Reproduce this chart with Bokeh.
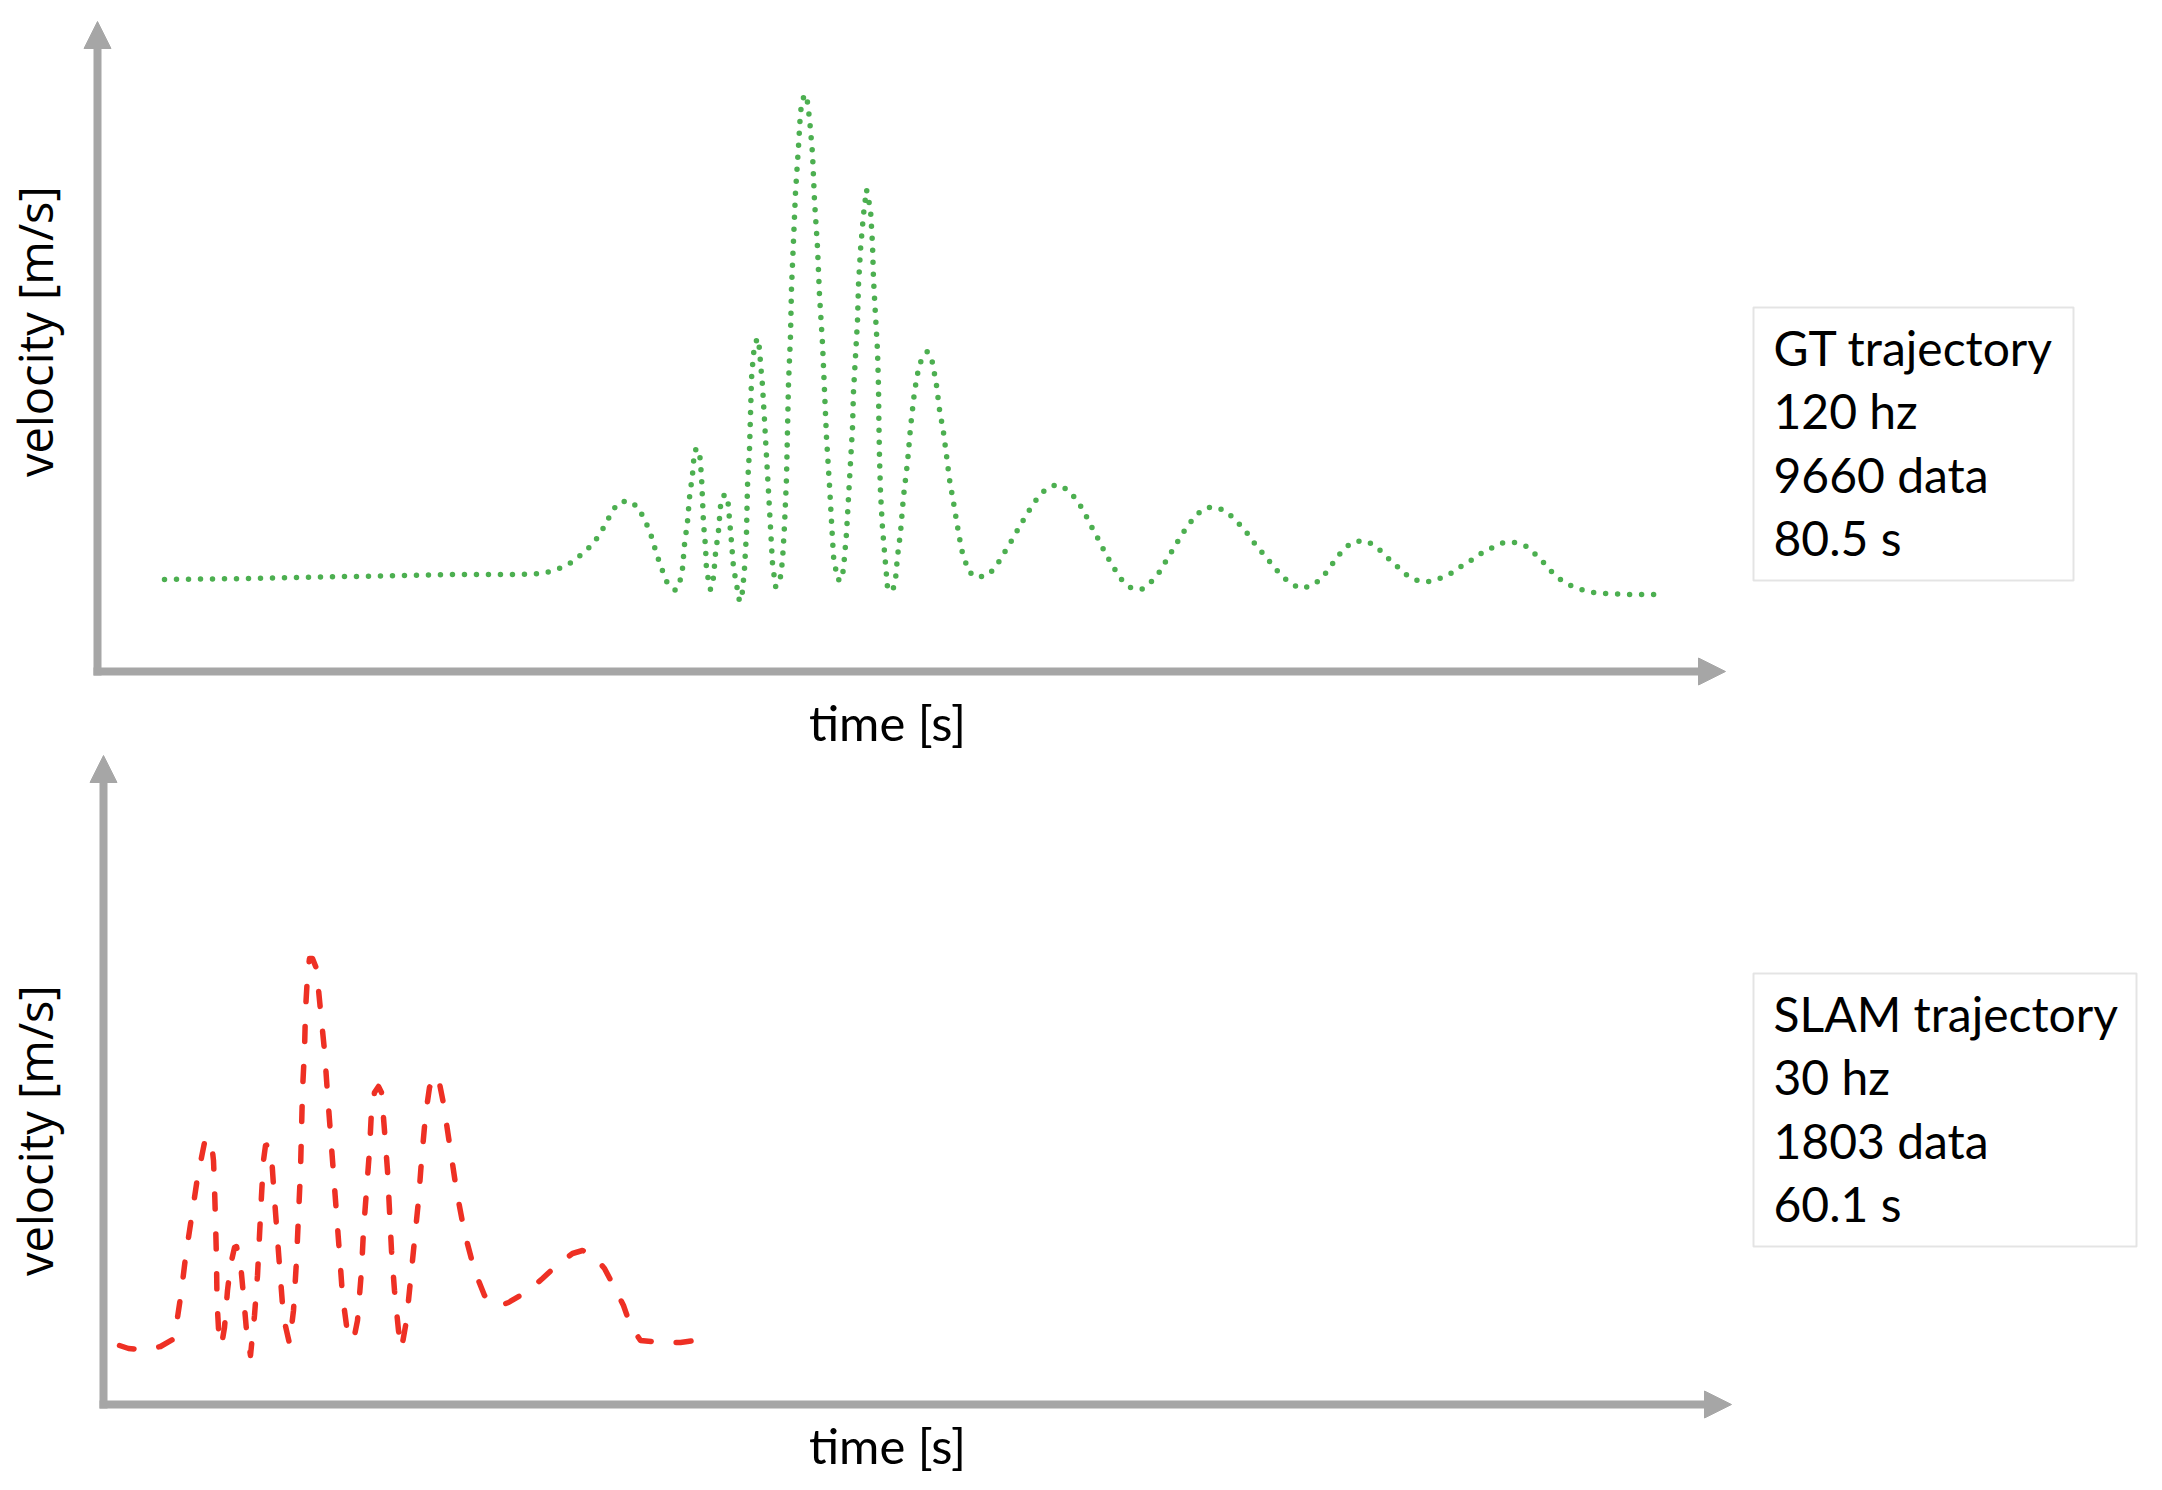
from bokeh.plotting import figure
from bokeh.layouts import column
from bokeh.models import Arrow, NormalHead, Label, BoxAnnotation, Range1d
from bokeh.embed import file_html
from bokeh.resources import INLINE
import math

# ---------------- data ----------------
# GT trajectory (time in s, velocity in m/s, schematic units)
gt_time = [0.0, 4.3, 9.3, 14.3, 17.8, 18.9, 19.45, 20.0, 20.5, 20.95, 21.4, 21.75, 22.05, 22.3, 22.65,
           23.15, 23.65, 23.95, 24.2, 24.4, 24.55, 24.75, 24.95, 25.15, 25.55, 25.8, 25.9, 26.0, 26.15,
           26.25, 26.4, 26.5, 26.65, 26.75, 26.85, 26.9, 26.95, 27.05, 27.1, 27.3, 27.45, 27.55, 27.7,
           27.8, 27.95, 28.15, 28.25, 28.35, 28.45, 28.55, 28.75, 28.9, 29.0, 29.1, 29.15, 29.25, 29.3,
           29.35, 29.45, 29.6, 29.7, 29.8, 29.9, 30.0, 30.1, 30.2, 30.3, 30.4, 30.55, 30.75, 30.9, 31.0,
           31.1, 31.15, 31.2, 31.3, 31.35, 31.45, 31.55, 31.7, 31.8, 31.95, 32.1, 32.25, 32.4, 32.5,
           32.65, 32.75, 32.9, 33.0, 33.1, 33.25, 33.35, 33.45, 33.65, 33.85, 33.95, 34.1, 34.2, 34.3,
           34.4, 34.45, 34.55, 34.65, 34.7, 34.8, 34.95, 35.1, 35.3, 35.4, 35.45, 35.55, 35.65, 35.7,
           35.72, 35.75, 35.8, 35.9, 36.05, 36.15, 36.4, 36.55, 36.65, 36.8, 36.95, 37.15, 37.3, 37.5,
           37.7, 37.9, 38.15, 38.4, 38.6, 38.75, 38.95, 39.1, 39.25, 39.45, 39.65, 39.85, 40.2, 40.6,
           41.15, 41.55, 41.85, 42.15, 42.45, 42.75, 43.05, 43.35, 43.7, 44.1, 44.6, 45.15, 45.55, 45.85,
           46.15, 46.4, 46.7, 46.95, 47.25, 47.55, 47.85, 48.3, 48.85, 49.3, 49.7, 50.0, 50.3, 50.6,
           50.9, 51.25, 51.6, 52.1, 52.65, 53.15, 53.6, 54.0, 54.35, 54.7, 55.1, 55.45, 55.85, 56.3,
           56.8, 57.4, 57.85, 58.2, 58.55, 58.9, 59.35, 59.9, 60.45, 60.9, 61.3, 61.75, 62.2, 62.75,
           63.3, 63.9, 64.4, 64.9, 65.4, 65.9, 66.4, 66.95, 67.5, 68.1, 68.55, 68.95, 69.35, 69.8,
           70.3, 70.85, 71.4, 72.0, 73.15, 74.9]
gt_velocity = [0.92, 0.93, 0.95, 0.97, 0.97, 0.98, 1.01, 1.05, 1.11, 1.19, 1.27, 1.37, 1.47, 1.57, 1.68,
               1.71, 1.65, 1.54, 1.43, 1.32, 1.21, 1.09, 0.98, 0.88, 0.81, 0.92, 1.03, 1.27, 1.50,
               1.74, 1.97, 2.21, 2.23, 2.20, 1.95, 1.72, 1.48, 1.25, 1.01, 0.82, 0.94, 1.18, 1.41,
               1.65, 1.76, 1.76, 1.52, 1.29, 1.04, 0.93, 0.70, 0.80, 1.03, 1.39, 1.86, 2.22, 2.57,
               2.93, 3.18, 3.31, 3.33, 3.09, 2.86, 2.51, 2.15, 1.80, 1.44, 1.08, 0.85, 0.87, 1.11, 1.46,
               1.93, 2.41, 2.88, 3.36, 3.84, 4.31, 4.79, 5.25, 5.60, 5.74, 5.77, 5.53, 5.18, 4.71,
               4.24, 3.76, 3.28, 2.81, 2.34, 1.86, 1.50, 1.15, 0.92, 0.91, 1.03, 1.38, 1.74, 2.09,
               2.44, 2.80, 3.15, 3.51, 3.87, 4.22, 4.57, 4.82, 4.62, 4.27, 3.92, 3.56, 3.21, 2.85,
               2.49, 2.14, 1.79, 1.43, 1.08, 0.84, 0.80, 0.92, 1.15, 1.39, 1.75, 2.09, 2.44, 2.80,
               3.03, 3.15, 3.20, 3.09, 2.86, 2.62, 2.39, 2.16, 1.92, 1.69, 1.45, 1.22, 1.00, 0.94,
               0.96, 1.04, 1.14, 1.24, 1.34, 1.45, 1.55, 1.65, 1.75, 1.83, 1.87, 1.82, 1.73, 1.64,
               1.53, 1.43, 1.32, 1.22, 1.11, 1.01, 0.92, 0.84, 0.82, 0.89, 0.98, 1.08, 1.18, 1.28,
               1.38, 1.48, 1.57, 1.64, 1.64, 1.59, 1.50, 1.42, 1.32, 1.23, 1.14, 1.05, 0.96, 0.88,
               0.83, 0.86, 0.93, 1.02, 1.12, 1.21, 1.29, 1.31, 1.27, 1.19, 1.11, 1.03, 0.95, 0.90,
               0.90, 0.94, 0.99, 1.06, 1.12, 1.19, 1.24, 1.29, 1.29, 1.25, 1.17, 1.09, 1.00, 0.92,
               0.86, 0.82, 0.79, 0.78, 0.77, 0.77]

# SLAM trajectory
slam_time = [0.0, 0.9, 1.9, 3.1, 4.1, 5.5, 5.8, 6.2, 6.6, 7.2, 7.8, 8.2, 8.5, 8.8, 9.2, 9.4, 9.5, 9.6,
             9.7, 9.75, 9.9, 10.2, 10.5, 10.8, 11.1, 11.5, 11.7, 12.1, 12.4, 12.7, 13.1, 13.5, 13.8,
             14.0, 14.2, 14.4, 14.6, 14.9, 15.2, 15.4, 15.7, 16.0, 16.4, 17.0, 17.4, 17.7, 17.9, 18.1,
             18.2, 18.3, 18.5, 18.6, 18.8, 19.0, 19.3, 19.7, 20.1, 20.5, 20.8, 21.1, 21.4, 21.7, 22.0,
             22.3, 22.7, 23.4, 23.8, 24.2, 24.4, 24.7, 25.0, 25.2, 25.5, 25.9, 26.2, 26.5, 26.8, 27.0,
             27.2, 27.5, 27.9, 28.2, 28.7, 29.1, 29.5, 29.9, 30.2, 30.6, 31.0, 31.5, 31.9, 32.4, 33.1,
             33.7, 34.5, 35.5, 36.5, 37.3, 38.1, 38.9, 40.9, 42.3, 43.7, 45.3, 46.3, 47.3, 48.5, 49.5,
             50.4, 51.1, 52.1, 54.1, 56.1, 58.3, 59.1]
slam_velocity = [0.59, 0.56, 0.55, 0.56, 0.58, 0.66, 0.87, 1.14, 1.47, 1.87, 2.27, 2.47, 2.62, 2.67,
                 2.62, 2.44, 2.17, 1.84, 1.44, 1.04, 0.76, 0.59, 0.77, 1.14, 1.39, 1.57, 1.58, 1.41,
                 1.09, 0.74, 0.49, 0.89, 1.29, 1.69, 2.09, 2.44, 2.59, 2.60, 2.49, 2.19, 1.79, 1.39,
                 0.87, 0.61, 0.94, 1.44, 1.89, 2.34, 2.74, 3.14, 3.54, 3.94, 4.29, 4.46, 4.46, 4.36,
                 3.94, 3.54, 3.11, 2.71, 2.31, 1.91, 1.51, 1.09, 0.79, 0.64, 0.84, 1.34, 1.74, 2.14,
                 2.54, 2.94, 3.12, 3.18, 3.12, 2.74, 2.34, 1.94, 1.54, 1.14, 0.74, 0.56, 0.84, 1.24,
                 1.64, 2.04, 2.44, 2.89, 3.17, 3.29, 3.26, 3.01, 2.54, 2.14, 1.72, 1.34, 1.09, 1.01,
                 0.99, 1.02, 1.14, 1.26, 1.39, 1.51, 1.54, 1.50, 1.36, 1.17, 0.99, 0.79, 0.64, 0.62,
                 0.62, 0.65, 0.66]

gt_info = ["GT trajectory", "120 hz", "9660 data", "80.5 s"]
slam_info = ["SLAM trajectory", "30 hz", "1803 data", "60.1 s"]
x_label = "time [s]"
y_label = "velocity [m/s]"

# ---------------- styles ----------------
AXIS_GRAY = "#A6A6A6"
GREEN = "#4CAF50"
RED = "#EE3024"
W = 2146


def base_fig(xr, yr, h):
    p = figure(width=W, height=h, x_range=Range1d(*xr), y_range=Range1d(*yr),
               x_axis_type=None, y_axis_type=None, output_backend="svg",
               toolbar_location=None, min_border=0)
    p.outline_line_color = None
    p.background_fill_color = "white"
    p.border_fill_color = "white"
    return p


def add_axes(p, x0, y_top, x_tip, x_dx, y_dy):
    head = dict(size=27, fill_color=AXIS_GRAY, line_color=AXIS_GRAY, line_width=1)
    p.add_layout(Arrow(end=NormalHead(**head), x_start=x0, y_start=-y_dy, x_end=x0, y_end=y_top,
                       line_color=AXIS_GRAY, line_width=8))
    p.add_layout(Arrow(end=NormalHead(**head), x_start=x0 - x_dx, y_start=0, x_end=x_tip, y_end=0,
                       line_color=AXIS_GRAY, line_width=8))


def add_texts(p, ylab_x, ylab_y, xlab_x, xlab_y, box, info_x, info_ys, info):
    p.add_layout(Label(x=ylab_x, y=ylab_y, text=y_label, angle=math.pi / 2, text_align="center",
                       text_baseline="alphabetic", text_font="Open Sans", text_font_size="47px",
                       text_color="black"))
    p.add_layout(Label(x=xlab_x, y=xlab_y, text=x_label, text_align="center",
                       text_baseline="alphabetic", text_font="Lato", text_font_size="49px",
                       text_color="black"))
    l, r, t, b = box
    p.add_layout(BoxAnnotation(left=l, right=r, top=t, bottom=b, fill_alpha=0,
                               line_color=AXIS_GRAY, line_width=2))
    for s, yy in zip(info, info_ys):
        p.add_layout(Label(x=info_x, y=yy, text=s, text_align="left", text_baseline="alphabetic",
                           text_font="Lato", text_font_size="48px", text_color="black"))


# ---------------- top panel: GT ----------------
p1 = base_fig((-8.2, 99.1), (-0.83, 6.71), 754)
add_axes(p1, x0=-3.35, y_top=6.50, x_tip=78.05, x_dx=0.2, y_dy=0.04)
p1.line(gt_time, gt_velocity, line_color=GREEN, line_width=5.5, line_dash="0 12",
        line_cap="round", line_join="round")
add_texts(p1, ylab_x=-6.5, ylab_y=3.40, xlab_x=36.15, xlab_y=-0.50,
          box=(79.45, 95.45, 3.64, 0.91), info_x=80.45, info_ys=[3.24, 2.61, 1.97, 1.34], info=gt_info)

# ---------------- bottom panel: SLAM ----------------
p2 = base_fig((-11.9, 202.7), (-0.70, 6.50), 720)
add_axes(p2, x0=-1.6, y_top=6.49, x_tip=161.2, x_dx=0.4, y_dy=0.04)
p2.line(slam_time, slam_velocity, line_color=RED, line_width=5.5, line_dash="15 25",
        line_cap="round", line_join="round")
add_texts(p2, ylab_x=-8.5, ylab_y=2.74, xlab_x=76.8, xlab_y=-0.40,
          box=(163.4, 201.7, 4.31, 1.58), info_x=165.4, info_ys=[3.91, 3.28, 2.64, 2.01], info=slam_info)

layout = column(p1, p2, spacing=0)
open("out.html", "w").write(file_html(layout, INLINE))
